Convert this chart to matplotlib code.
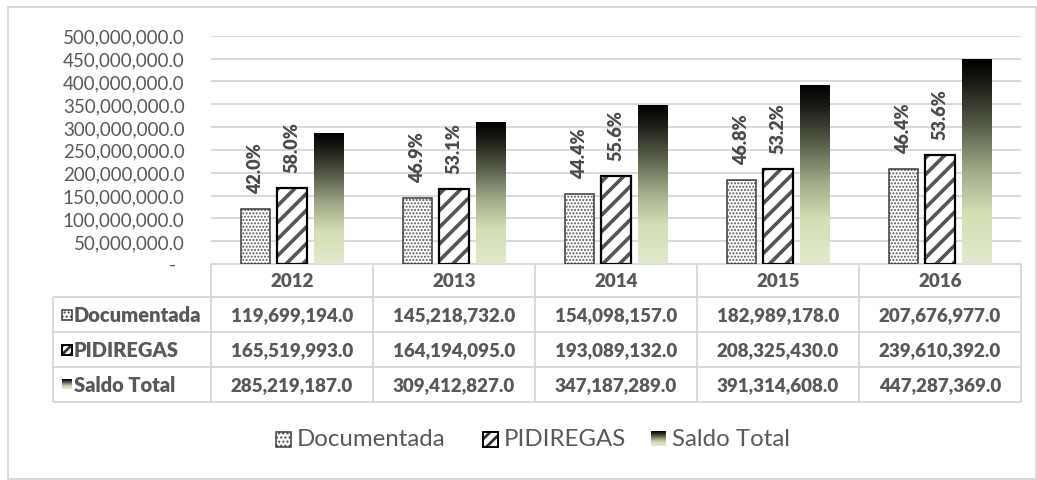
import numpy as np
import matplotlib

matplotlib.use("Agg")
import matplotlib.pyplot as plt
from matplotlib.colors import LinearSegmentedColormap
from matplotlib.patches import Rectangle

# --- data -------------------------------------------------------------
years = ["2012", "2013", "2014", "2015", "2016"]
documentada = [119699194.0, 145218732.0, 154098157.0, 182989178.0, 207676977.0]
pidiregas = [165519993.0, 164194095.0, 193089132.0, 208325430.0, 239610392.0]
saldo_total = [285219187.0, 309412827.0, 347187289.0, 391314608.0, 447287369.0]
series_names = ["Documentada", "PIDIREGAS", "Saldo Total"]
y_ticks = np.arange(0, 500_000_001, 50_000_000)

# --- look -------------------------------------------------------------
W, H = 1037, 481
TEXT = "#595959"
GRID = "#d9d9d9"
plt.rcParams["font.family"] = ["Lato", "DejaVu Sans"]

grad_cmap = LinearSegmentedColormap.from_list(
    "saldo",
    [(0.0, "#e0e9cd"), (0.25, "#d3deb3"), (0.45, "#a2ac8a"),
     (0.68, "#565c48"), (0.88, "#1b1d15"), (1.0, "#000000")],
)
GRAD = np.linspace(0, 1, 256).reshape(-1, 1)


def hatch_lw(patches, lw):
    for p in patches:
        if hasattr(p, "set_hatch_linewidth"):
            p.set_hatch_linewidth(lw)


fig = plt.figure(figsize=(W / 100, H / 100), dpi=100)

# overlay in pixel units for frame, table and legend
ov = fig.add_axes([0, 0, 1, 1], zorder=0)
ov.set_xlim(0, W)
ov.set_ylim(H, 0)
ov.axis("off")

PL, PR, PT, PB = 211, 1021, 36.7, 265
ax = fig.add_axes([PL / W, 1 - PB / H, (PR - PL) / W, (PB - PT) / H], zorder=1)
ax.patch.set_alpha(0)

x = np.arange(len(years))
off, bw = 0.225, 0.18

# Documentada: dotted
b = ax.bar(x - off, documentada, bw, color="white", edgecolor="#5a5a5a",
           hatch=".....", lw=0, zorder=3)
hatch_lw(b, 1.0)
ax.bar(x - off, documentada, bw, fill=False, edgecolor="#3a3a3a", lw=1.1, zorder=4)

# PIDIREGAS: thick stripes
b = ax.bar(x, pidiregas, bw, color="white", edgecolor="#555555",
           hatch="//", lw=0, zorder=3)
hatch_lw(b, 2.6)
ax.bar(x, pidiregas, bw, fill=False, edgecolor="black", lw=1.6, zorder=4)

# Saldo Total: vertical gradient per bar
for xi, v in zip(x, saldo_total):
    ax.imshow(GRAD, extent=(xi + off - bw / 2, xi + off + bw / 2, 0, v),
              origin="lower", aspect="auto", cmap=grad_cmap,
              interpolation="bilinear", zorder=3)

for xi, d, p, t in zip(x, documentada, pidiregas, saldo_total):
    for xo, v in ((xi - off, d), (xi, p)):
        ax.annotate(f"{v / t * 100:.1f}%", (xo, v), xytext=(0, 11.5),
                    textcoords="offset points", rotation=90, ha="center",
                    va="bottom", fontsize=13, fontweight="heavy", color="#4a4a4a")

ax.set_xlim(-0.5, len(years) - 0.5)
ax.set_ylim(0, 500e6)
ax.set_yticks(y_ticks)
ax.set_yticklabels([""] + [f"{v:,.1f}" for v in y_ticks[1:]])
ax.set_xticks([])
ax.grid(axis="y", color=GRID, lw=1.4)
ax.set_axisbelow(True)
for s in ax.spines.values():
    s.set_visible(False)
ax.tick_params(axis="y", length=0, pad=19, labelsize=13.5, labelcolor=TEXT)
ov.text(172, PB, "-", ha="center", va="center", fontsize=13.5, color=TEXT)

# --- outer frame ------------------------------------------------------
ov.add_patch(Rectangle((8, 7.5), 1028, 472, fill=False, edgecolor=GRID, lw=1.4))

# --- data table -------------------------------------------------------
ROW_Y = [265, 298, 333, 368, 403]
COL_X = [PL + i * (PR - PL) / len(years) for i in range(len(years) + 1)]
LAB_X0 = 53
tkw = dict(color=GRID, lw=1.4, solid_capstyle="butt")
ov.plot([PL, PR], [ROW_Y[0]] * 2, **tkw)
for yy in ROW_Y[1:]:
    ov.plot([LAB_X0, PR], [yy, yy], **tkw)
ov.plot([LAB_X0] * 2, [ROW_Y[1], ROW_Y[-1]], **tkw)
for xx in COL_X:
    ov.plot([xx] * 2, [ROW_Y[0], ROW_Y[-1]], **tkw)

for i, yr in enumerate(years):
    cx = (COL_X[i] + COL_X[i + 1]) / 2
    ov.text(cx, (ROW_Y[0] + ROW_Y[1]) / 2, yr, ha="center", va="center",
            fontsize=13.5, fontweight="heavy", color=TEXT)
    for r, vals in enumerate((documentada, pidiregas, saldo_total)):
        ov.text(cx, (ROW_Y[r + 1] + ROW_Y[r + 2]) / 2, f"{vals[i]:,.1f}",
                ha="center", va="center", fontsize=13.5, fontweight="heavy",
                color=TEXT)


def key_icon(kind, x0, yc, size, stripes="//"):
    y0 = yc - size / 2
    if kind == 0:
        p = ov.add_patch(Rectangle((x0, y0), size, size, facecolor="white",
                                   edgecolor="#4a4a4a", hatch="....", lw=0))
        hatch_lw([p], 1.0)
        ov.add_patch(Rectangle((x0, y0), size, size, fill=False,
                               edgecolor="#3a3a3a", lw=1.1))
    elif kind == 1:
        p = ov.add_patch(Rectangle((x0, y0), size, size, facecolor="white",
                                   edgecolor="#303030", hatch=stripes, lw=0))
        hatch_lw([p], 2.0)
        ov.add_patch(Rectangle((x0, y0), size, size, fill=False,
                               edgecolor="black", lw=1.4))
    else:
        ov.imshow(GRAD, extent=(x0, x0 + size, y0 + size, y0), origin="lower",
                  aspect="auto", cmap=grad_cmap, interpolation="bilinear")


for r, name in enumerate(series_names):
    yc = (ROW_Y[r + 1] + ROW_Y[r + 2]) / 2
    key_icon(r, 62, yc, 10, stripes="////")
    ov.text(74, yc, name, ha="left", va="center", fontsize=14.5,
            fontweight="heavy", color=TEXT)

# --- legend -----------------------------------------------------------
LEG_X = [276, 483, 651]
for r, (name, lx) in enumerate(zip(series_names, LEG_X)):
    key_icon(r, lx, 440, 15, stripes="///")
    ov.text(lx + 21, 440, name, ha="left", va="center", fontsize=17.3, color=TEXT)

ov.set_xlim(0, W)
ov.set_ylim(H, 0)

fig.savefig("out.png", dpi=100)
